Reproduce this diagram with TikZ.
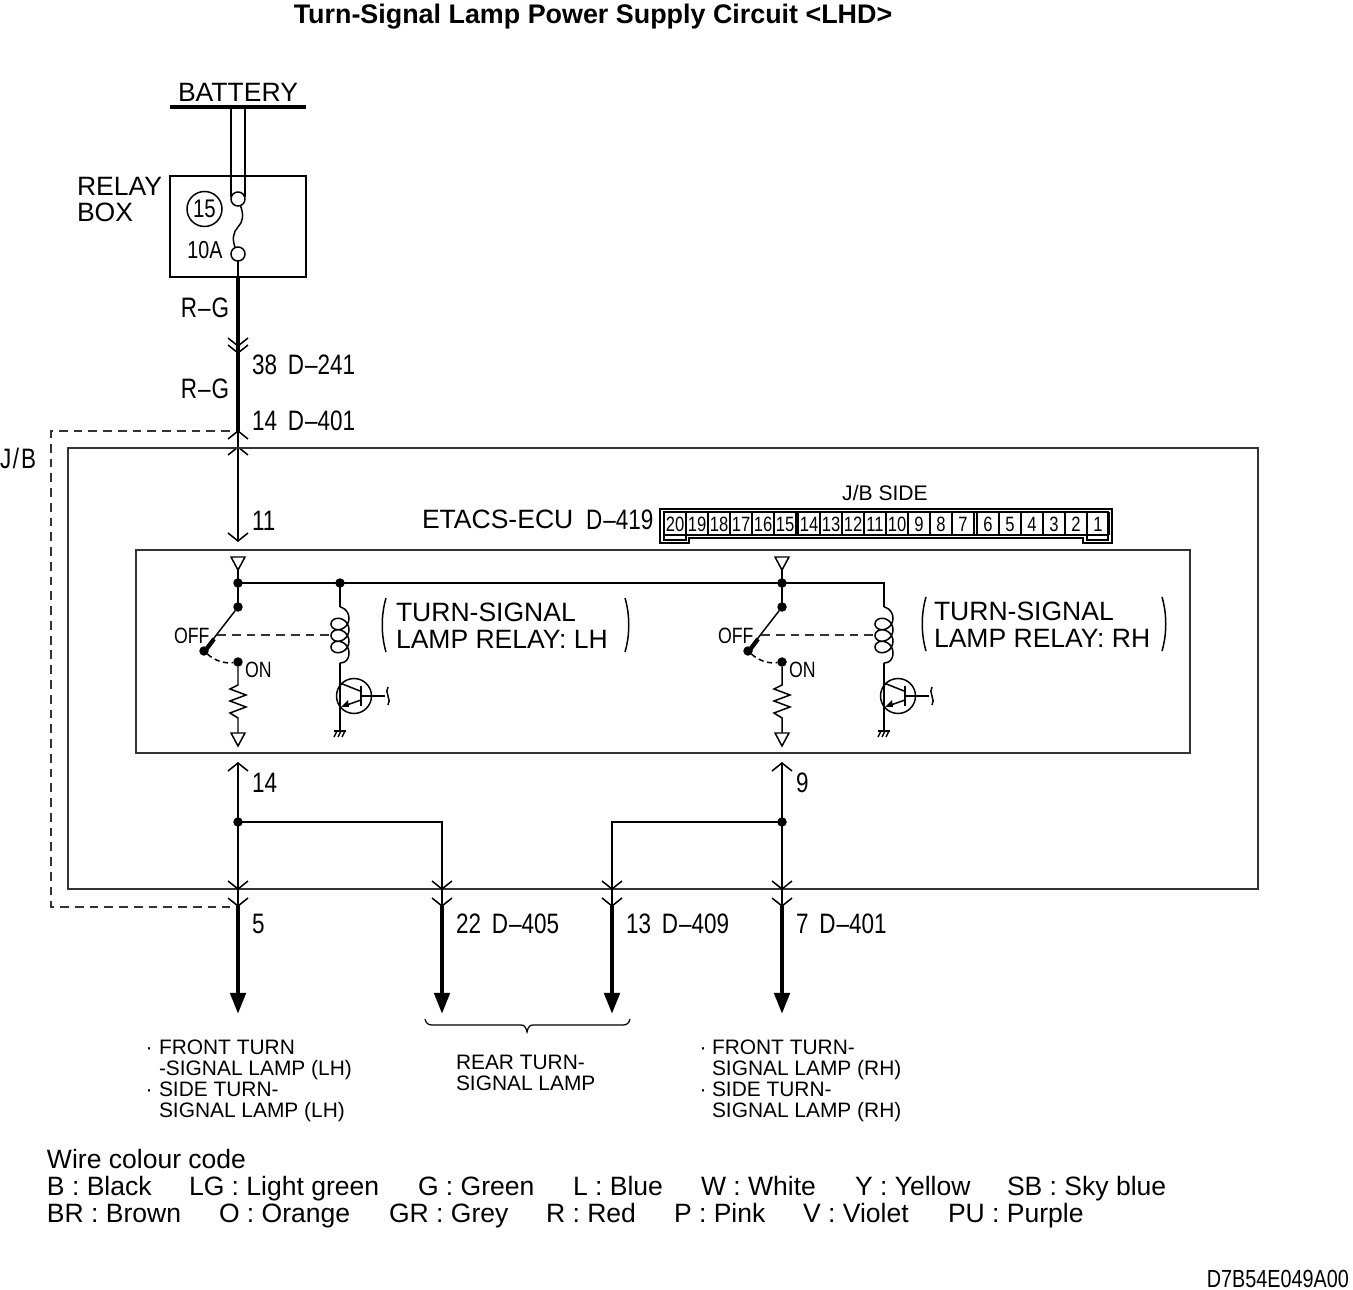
\documentclass[tikz,border=0pt]{standalone}
\usepackage{fontspec}
\setmainfont{Liberation Sans}
\newfontfamily\narrowfont[FakeStretch=0.8]{Liberation Sans}
\usetikzlibrary{arrows.meta,positioning}

\begin{document}
\begin{tikzpicture}[
x=0.02cm, y=-0.02cm,
every node/.style={inner sep=0pt, outer sep=0pt},
wire/.style={line width=0.85pt, line join=miter},
frame/.style={line width=1.05pt, draw=black!80},
heavy/.style={line width=2.5pt},
feed/.style={heavy, -{Triangle[length=12pt, width=8.6pt]}},
linkage/.style={line width=0.8pt, dash pattern=on 5pt off 3.4pt, draw=black!80},
dot/.style={circle, fill=black, minimum size=5.4pt},
hollow/.style={circle, draw, fill=white, line width=0.85pt, minimum size=8pt},
lab/.style={font=\fontsize{15.1}{15.1}\selectfont, anchor=base west, align=left},
lamp/.style={font=\fontsize{11.9}{11.9}\selectfont, anchor=west, align=left},
pin/.style={font=\narrowfont\fontsize{16}{16}\selectfont, anchor=west},
tiny/.style={font=\narrowfont\fontsize{11.8}{12}\selectfont},
chevdown/.pic={\draw[wire] (-10,-8) -- (0,0) -- (10,-8);},
chevup/.pic={\draw[wire] (-10,8) -- (0,0) -- (10,8);},
opentri/.pic={\draw[wire, fill=white] (-7,0) -- (7,0) -- (0,13) -- cycle;}
]
    \useasboundingbox (0,0) rectangle (1353,1290);

    % Title and battery
    \node[font=\bfseries\fontsize{15.3}{16}\selectfont] (title) at (593,17) {Turn-Signal Lamp Power Supply Circuit <LHD>};
    \node[lab, anchor=center] (battery) at (238,92) {BATTERY};
    \draw
    (170,107) coordinate (barL)
    (306,107) coordinate (barR)
    (231,107) coordinate (fuseA)
    (245,107) coordinate (fuseB)
    (231,197) coordinate (fuseA2)
    (245,197) coordinate (fuseB2)
    (238,277) coordinate (boxOut)
    (238,431) coordinate (jbIn)
    (238,447) coordinate (jbTop)
    (238,541) coordinate (ecuIn);
    \draw[line width=1.9pt] (barL) -- (barR);

    % Relay box
    \node[draw, wire, minimum width=136*0.02cm, minimum height=101*0.02cm] (relaybox) at (238,226.5) {};
    \node[lab, anchor=north west] (relaylabel) at (77,177) {RELAY\\BOX};
    \draw[wire] (fuseA) -- (fuseA2);
    \draw[wire] (fuseB) -- (fuseB2);
    \node[hollow] (fuseTop) at (238,199) {};
    \node[hollow] (fuseBot) at (238,254) {};
    \draw[wire] (fuseTop) .. controls (244,215) and (243,222) .. (238,227) .. controls (233,232) and (232,240) .. (fuseBot);
    \draw[wire] (fuseBot) -- (boxOut);
    \node[draw, circle, wire, minimum size=35*0.02cm, font=\narrowfont\fontsize{14.5}{15}\selectfont] (fuseNo) at (204.5,209) {15};
    \node[font=\narrowfont\fontsize{14}{15}\selectfont] (fuseAmp) at (205,250) {10A};

    % Feed into the J/B
    \draw[heavy] (boxOut) -- (jbIn);
    \path (238,346) pic {chevdown} (238,353) pic {chevdown};
    \path (jbIn) pic {chevup} (jbTop) pic {chevup};
    \draw[wire] (jbIn) -- (jbTop) -- (ecuIn);
    \path (ecuIn) pic {chevdown};
    \node[pin, anchor=center] (rgA) at (205,308) {R\kern0.6pt–\kern0.6pt G};
    \node[pin, anchor=center] (rgB) at (205,389) {R\kern0.6pt–\kern0.6pt G};
    \node[pin] (pinA) at (252,365) {38\ \,D\kern0.6pt–241};
    \node[pin] (pinB) at (252,421) {14\ \,D\kern0.6pt–401};
    \node[pin] (pinC) at (252,521) {11};

    % J/B frame and dashed outline
    \node[draw, frame, minimum width=1190*0.02cm, minimum height=441*0.02cm] (jb) at (663,668.5) {};
    \node[pin] (jblabel) at (0,458) {J\kern1pt/\kern1pt B};
    \draw
    (51,431) coordinate (dashA)
    (51,907) coordinate (dashB)
    (230,431) coordinate (dashC)
    (230,907) coordinate (dashD);
    \draw[linkage] (dashC) -- (dashA) -- (dashB) -- (dashD);

    % ECU frame
    \node[draw, frame, minimum width=1054*0.02cm, minimum height=203*0.02cm] (ecu) at (663,651.5) {};
    \node[lab] (ecuname) at (422,529) {ETACS-ECU};
    \node[pin] (ecuno) at (586,520) {D\kern0.6pt–419};
    \node[font=\fontsize{12}{12}\selectfont] (jbside) at (885,493) {J/B SIDE};

    % Connector outline
    \draw[wire] (660,509) -- (1112,509) -- (1112,543) -- (1083,543) -- (1083,538) -- (689,538) -- (689,543) -- (660,543) -- cycle;
    \draw[wire] (664,512) rectangle (1108,535);
    \draw[wire] (664,535) -- (664,540) -- (686,540) -- (686,535);
    \draw[wire] (1087,535) -- (1087,540) -- (1108,540) -- (1108,535);
    \foreach \n/\cx in {20/675,19/697,18/719,17/741,16/763,15/785,14/809,13/831,12/853,11/875,10/897,9/919,8/941,7/963,6/988,5/1010,4/1032,3/1054,2/1076,1/1098}{
        \node[tiny] (cell\n) at (\cx,524) {\n};
        \draw[wire] (\cx+11,512) -- (\cx+11,535);
    }
    \draw[wire] (798,512) -- (798,535);
    \draw[wire] (977,512) -- (977,535);

    % Relay circuits, same drawing twice
    \draw
    (238,583) coordinate (busL)
    (884,583) coordinate (busR)
    (884,607) coordinate (busEnd);
    \draw[wire] (busL) -- (busR) -- (busEnd);
    \foreach \xs in {0,544}{
    \begin{scope}[shift={(\xs,0)}]
        \path (238,557) pic {opentri};
        \draw[wire] (238,570) -- (238,607);
        \node[dot] (bus\xs) at (238,583) {};
        \node[dot] (com\xs) at (238,607) {};
        \node[dot] (off\xs) at (204,651) {};
        \node[dot] (on\xs) at (238,662) {};
        \draw[wire] (com\xs) -- (off\xs);
        \draw[line width=2.4pt] (205,651) -- (214,639);
        \draw[wire, densely dashed] (off\xs) .. controls (214,660) and (224,664) .. (on\xs);
        \draw[wire] (on\xs) -- (238,685) -- (230,689) -- (246,695) -- (230,701) -- (246,707) -- (230,713) -- (238,718) -- (238,733);
        \path (238,733) pic {opentri};
        \node[font=\narrowfont\fontsize{12.6}{13}\selectfont, anchor=west] (offlab\xs) at (174,636) {OFF};
        \node[font=\narrowfont\fontsize{12.6}{13}\selectfont, anchor=west] (onlab\xs) at (245,670) {ON};
        % coil
        \draw[wire] (340,583) -- (340,607);
        \draw[wire] plot[smooth, domain=0:1170, samples=79, variable=\t] ({340+9*sin(\t)},{624+(\t-270)/360*11.5-8.4*cos(\t)}) .. controls (349,660) and (345,663) .. (340,663);
        \draw[linkage] (217,635) -- (331,635);
        % transistor
        \node[draw, circle, wire, minimum size=35*0.02cm] (tr\xs) at (354,696) {};
        \draw[wire] (340,663) -- (340,731);
        \draw[wire] (340,683) -- (360,691);
        \draw[line width=1.1pt] (361,686) -- (361,706);
        \draw[wire] (361,700) -- (344,706);
        \fill (341,707) -- (348,700) -- (349,707) -- cycle;
        \draw[wire] (361,696) -- (385,696);
        \draw[wire] (388,687) .. controls (384,692) and (392,700) .. (388,705);
        % ground
        \draw[wire] (334,731) -- (346,731);
        \foreach \g in {335,339,343}{
            \draw[wire] (\g+2,731) -- (\g-1,737);
        }
    \end{scope}
    }
    \node[dot] (coilTap) at (340,583) {};

    % Relay labels with brackets
    \node[lab, anchor=north west] (relayLH) at (396,603) {TURN-SIGNAL\\LAMP RELAY: LH};
    \node[lab, anchor=north west] (relayRH) at (934,602) {TURN-SIGNAL\\LAMP RELAY: RH};
    \draw[wire] (386,598) .. controls (381,615) and (381,635) .. (386,652);
    \draw[wire] (625,598) .. controls (630,615) and (630,635) .. (625,652);
    \draw[wire] (926,597) .. controls (921,614) and (921,634) .. (926,651);
    \draw[wire] (1162,597) .. controls (1167,614) and (1167,634) .. (1162,651);

    % Outputs of the J/B
    \draw
    (238,763) coordinate (outLa)
    (238,822) coordinate (outLb)
    (782,763) coordinate (outRa)
    (782,822) coordinate (outRb)
    (442,822) coordinate (outRearA)
    (612,822) coordinate (outRearB);
    \path (outLa) pic {chevup} (outRa) pic {chevup};
    \foreach \cn/\cx in {a/238,b/442,c/612,d/782}{
        \coordinate (drop\cn) at (\cx,906);
        \coordinate (end\cn) at (\cx,1014);
        \draw[feed] (drop\cn) -- (end\cn);
        \path (\cx,889) pic {chevdown} (\cx,906) pic {chevdown};
    }
    \draw[wire] (outLa) -- (dropa);
    \draw[wire] (outRa) -- (dropd);
    \draw[wire] (outLb) -| (dropb);
    \draw[wire] (outRb) -| (dropc);
    \node[dot] (splitL) at (outLb) {};
    \node[dot] (splitR) at (outRb) {};
    \node[pin] (pinD) at (252,783) {14};
    \node[pin] (pinE) at (796,783) {9};
    \node[pin] (pinF) at (252,924) {5};
    \node[pin] (pinG) at (456,924) {22\ \,D\kern0.6pt–405};
    \node[pin] (pinH) at (626,924) {13\ \,D\kern0.6pt–409};
    \node[pin] (pinJ) at (796,924) {7\ \,D\kern0.6pt–401};

    % Brace over the rear lamps
    \draw[wire, line width=0.7pt] (425,1019) .. controls (426,1023) and (428,1025) .. (432,1025) -- (521,1025) .. controls (525,1025) and (526,1028) .. (527,1032) .. controls (528,1028) and (529,1025) .. (533,1025) -- (623,1025) .. controls (627,1025) and (629,1023) .. (630,1019);

    % Lamp labels
    \node[lamp, anchor=north west] (lampL) at (159,1040) {FRONT TURN\\-SIGNAL LAMP (LH)\\SIDE TURN-\\SIGNAL LAMP (LH)};
    \node[lamp, anchor=north west] (lampR) at (712,1040) {FRONT TURN-\\SIGNAL LAMP (RH)\\SIDE TURN-\\SIGNAL LAMP (RH)};
    \node[lamp, anchor=north west] (lampC) at (456,1055) {REAR TURN-\\SIGNAL LAMP};
    \foreach \bx/\by/\bn in {149/1051/a,149/1093/b,703/1051/c,703/1093/d}{
        \node[lamp, anchor=center] (bullet\bn) at (\bx,\by) {·};
    }

    % Colour code
    \node[lab] (codehead) at (47,1168) {Wire colour code};
    \foreach \tx/\ty/\cname/\cc in {47/1195/B : Black/a,189/1195/LG : Light green/b,418/1195/G : Green/c,573/1195/L : Blue/d,701/1195/W : White/e,855/1195/Y : Yellow/f,1007/1195/SB : Sky blue/g,47/1222/BR : Brown/h,219/1222/O : Orange/i,389/1222/GR : Grey/j,546/1222/R : Red/k,674/1222/P : Pink/m,803/1222/V : Violet/n,948/1222/PU : Purple/p}{
        \node[lab] (code\cc) at (\tx,\ty) {\cname};
    }
    \node[font=\narrowfont\fontsize{14.1}{14}\selectfont, anchor=east] (figno) at (1349,1279) {D7B54E049A00};
\end{tikzpicture}
\end{document}
